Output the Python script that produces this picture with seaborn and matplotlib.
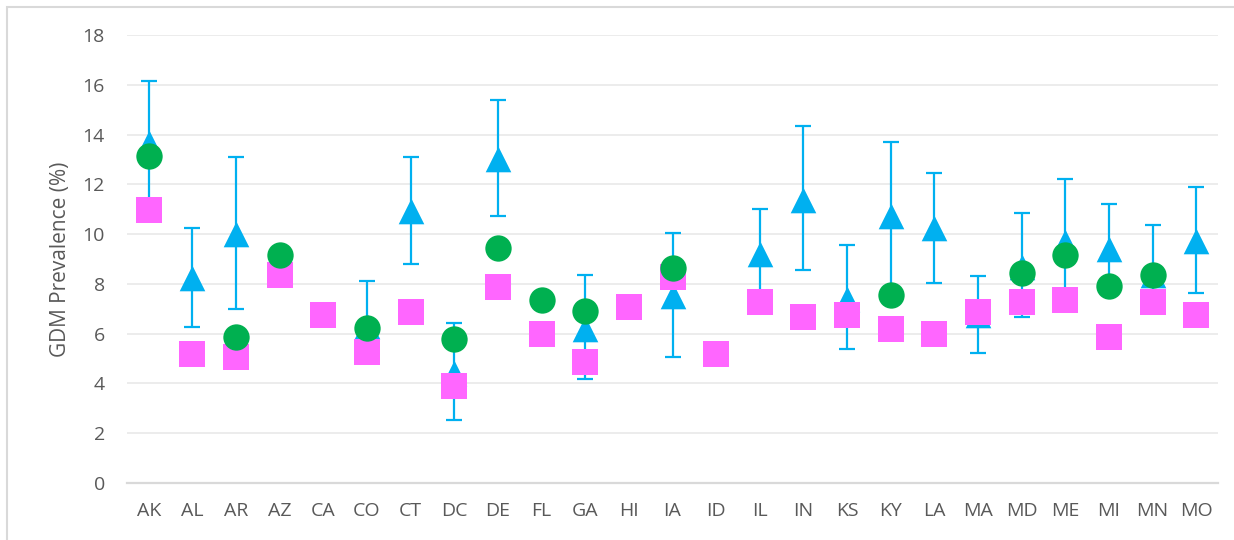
import numpy as np
import pandas as pd
import matplotlib
matplotlib.use('Agg')
import matplotlib.pyplot as plt
import seaborn as sns
from matplotlib.patches import Rectangle

states = ['AK', 'AL', 'AR', 'AZ', 'CA', 'CO', 'CT', 'DC', 'DE', 'FL', 'GA', 'HI', 'IA',
          'ID', 'IL', 'IN', 'KS', 'KY', 'LA', 'MA', 'MD', 'ME', 'MI', 'MN', 'MO']

# triangle series (with confidence interval)
tri_val = [13.65, 8.25, 10.0, np.nan, np.nan, 6.3, 10.91, 4.42, 13.02, np.nan, 6.2, np.nan, 7.5,
           np.nan, 9.21, 11.39, 7.39, 10.72, 10.24, 6.76, 8.69, 9.69, 9.41, 8.37, 9.71]
tri_low = [11.2, 6.25, 7.01, np.nan, np.nan, 5.6, 8.81, 2.53, 10.72, np.nan, 4.16, np.nan, 5.06,
           np.nan, 7.45, 8.54, 5.37, 7.75, 8.05, 5.21, 6.65, 7.2, 7.65, 7.6, 7.62]
tri_high = [16.14, 10.25, 13.09, np.nan, np.nan, 8.11, 13.09, 6.41, 15.38, np.nan, 8.37, np.nan, 10.05,
            np.nan, 11.0, 14.35, 9.55, 13.69, 12.45, 8.3, 10.83, 12.2, 11.19, 10.35, 11.9]
# circle series
circ_val = [13.15, np.nan, 5.86, 9.16, np.nan, 6.21, np.nan, 5.77, 9.45, 7.35, 6.92, np.nan, 8.65,
            np.nan, np.nan, np.nan, np.nan, 7.55, np.nan, np.nan, 8.45, 9.16, 7.91, 8.35, np.nan]
# square series
sq_val = [10.95, 5.17, 5.05, 8.34, 6.77, 5.25, 6.86, 3.88, 7.86, 5.97, 4.85, 7.06, 8.26,
          5.17, 7.26, 6.65, 6.77, 6.17, 5.97, 6.86, 7.26, 7.34, 5.85, 7.26, 6.77]

BLUE = '#00B0F0'
GREEN = '#00B050'
PINK = '#FF66FF'
GRAY = '#595959'

sns.set_style('white')
plt.rcParams['font.family'] = ['Open Sans', 'DejaVu Sans']

fig = plt.figure(figsize=(12.34, 5.4), dpi=100)
ax = fig.add_axes([127 / 1234, 57 / 540, 1091 / 1234, 448 / 540])

x = np.arange(len(states))
tri = np.array(tri_val)
err = [tri - np.array(tri_low), np.array(tri_high) - tri]

ax.errorbar(x, tri, yerr=err, fmt='none', ecolor=BLUE, elinewidth=1.6,
            capsize=5.5, capthick=1.6, zorder=2)

df = pd.DataFrame({'state': states, 'tri': tri_val, 'circ': circ_val, 'sq': sq_val})

sns.scatterplot(data=df, x=x, y='tri', marker='^', s=340, color=BLUE,
                linewidth=0, ax=ax, zorder=3, legend=False)
sns.scatterplot(data=df, x=x, y='sq', marker='s', s=370, color=PINK,
                linewidth=0, ax=ax, zorder=4, legend=False)
sns.scatterplot(data=df, x=x, y='circ', marker='o', s=360, color=GREEN,
                linewidth=0, ax=ax, zorder=5, legend=False)

ax.set_xlim(-0.5, len(states) - 0.5)
ax.set_ylim(0, 18)
ax.set_yticks(range(0, 19, 2))
ax.set_xticks(x)
ax.set_xticklabels(states)
ax.yaxis.grid(True, color='#EBEBEB', linewidth=1.3)
ax.set_axisbelow(True)
for s in ['top', 'right', 'left']:
    ax.spines[s].set_visible(False)
ax.spines['bottom'].set_color('#D9D9D9')
ax.spines['bottom'].set_linewidth(1.6)
ax.tick_params(axis='both', length=0, labelsize=14, colors=GRAY)
ax.tick_params(axis='y', pad=16)
ax.tick_params(axis='x', pad=14)
ax.set_xlabel('')
ax.set_ylabel('GDM Prevalence (%)', fontsize=15, color=GRAY, labelpad=8)

# chart border
fig.patches.append(Rectangle((7 / 1234, -0.1), 1.2, 1.1 - 7 / 540, transform=fig.transFigure,
                             fill=False, edgecolor='#D9D9D9', linewidth=1.5))

fig.savefig('out.png', dpi=100)
